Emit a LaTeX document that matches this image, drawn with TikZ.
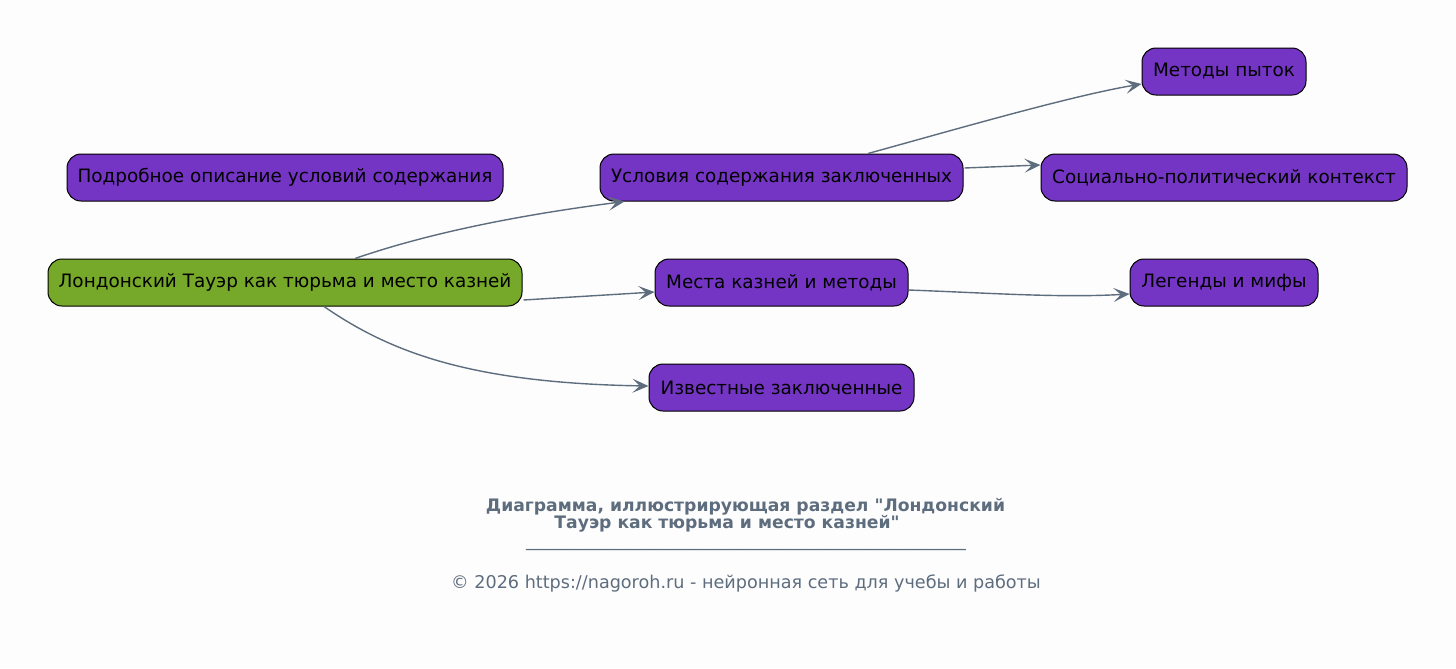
\documentclass[tikz,border=0pt]{standalone}
\usepackage{fontspec}
\newfontfamily\dv{DejaVu Sans}
\usetikzlibrary{arrows.meta,calc}
\definecolor{bgc}{HTML}{FDFDFD}
\definecolor{purp}{HTML}{7535C4}
\definecolor{grn}{HTML}{76A82A}
\definecolor{edgec}{HTML}{5D6D7E}
\tikzset{
  box/.style={draw=black, line width=0.75pt, rounded corners=10.5pt, fill=purp,
    minimum height=35.25pt, inner xsep=2pt, inner ysep=0pt, text=black,
    font=\dv\fontsize{13.8pt}{16pt}\selectfont},
  rootbox/.style={box, fill=grn},
  conn/.style={draw=edgec, line width=1.05pt,
    -{Stealth[length=12pt, width=10.5pt, inset=5.5pt]}},
  capt/.style={text=edgec, font=\dv\bfseries\fontsize{12.9pt}{14pt}\selectfont, inner sep=0pt},
  foot/.style={text=edgec, font=\dv\fontsize{13.2pt}{15pt}\selectfont, inner sep=0pt}
}
\begin{document}
\begin{tikzpicture}[x=0.75pt, y=-0.75pt]
\useasboundingbox (0,0) rectangle (1456,668);
\fill[bgc] (0,0) rectangle (1456,668);

\node[box, minimum width=327pt] (pod) at (285,177.5) {Подробное описание условий содержания};
\node[rootbox, minimum width=355.5pt] (lon) at (285,282.5) {Лондонский Тауэр как тюрьма и место казней};
\node[box, minimum width=272.25pt] (usl) at (781.5,177.5) {Условия содержания заключенных};
\node[box, minimum width=189.75pt] (mes) at (781.5,282.5) {Места казней и методы};
\node[box, minimum width=198.75pt] (izv) at (781.5,387.5) {Известные заключенные};
\node[box, minimum width=123pt] (met) at (1224,71.5) {Методы пыток};
\node[box, minimum width=274.5pt] (soc) at (1224,177.5) {Социально-политический контекст};
\node[box, minimum width=141pt] (leg) at (1224,282.5) {Легенды и мифы};

\draw[conn] ($(lon.north)+(70,0)$) .. controls (400,243) and (480,220) .. ($(usl.south west)+(25,0)$);
\draw[conn] ($(lon.east)+(1,17.5)$) -- ($(mes.west)+(0,9.5)$);
\draw[conn] ($(lon.south)+(39,0)$) .. controls (390,352) and (470,383) .. ($(izv.west)+(0,-1.5)$);
\draw[conn] ($(usl.north)+(86.5,0)$) .. controls (950,131) and (1070,96) .. ($(met.west)+(0,12.5)$);
\draw[conn] ($(usl.east)+(1,-9.5)$) -- ($(soc.west)+(0,-12.5)$);
\draw[conn] ($(mes.east)+(0,7.5)$) .. controls (990,293) and (1060,298) .. ($(leg.west)+(0,11.5)$);

\node[capt] (c1) at (745.5,507) {Диаграмма, иллюстрирующая раздел "Лондонский};
\node[capt] (c2) at (727,524) {Тауэр как тюрьма и место казней"};
\node[foot] (c3) at (746,549) {\_\_\_\_\_\_\_\_\_\_\_\_\_\_\_\_\_\_\_\_\_\_\_\_\_\_\_\_\_\_\_\_\_\_\_\_\_\_\_\_\_\_\_\_\_\_\_\_\_\_};
\node[foot] (c4) at (746,583) {© 2026 https://nagoroh.ru - нейронная сеть для учебы и работы};
\end{tikzpicture}
\end{document}
